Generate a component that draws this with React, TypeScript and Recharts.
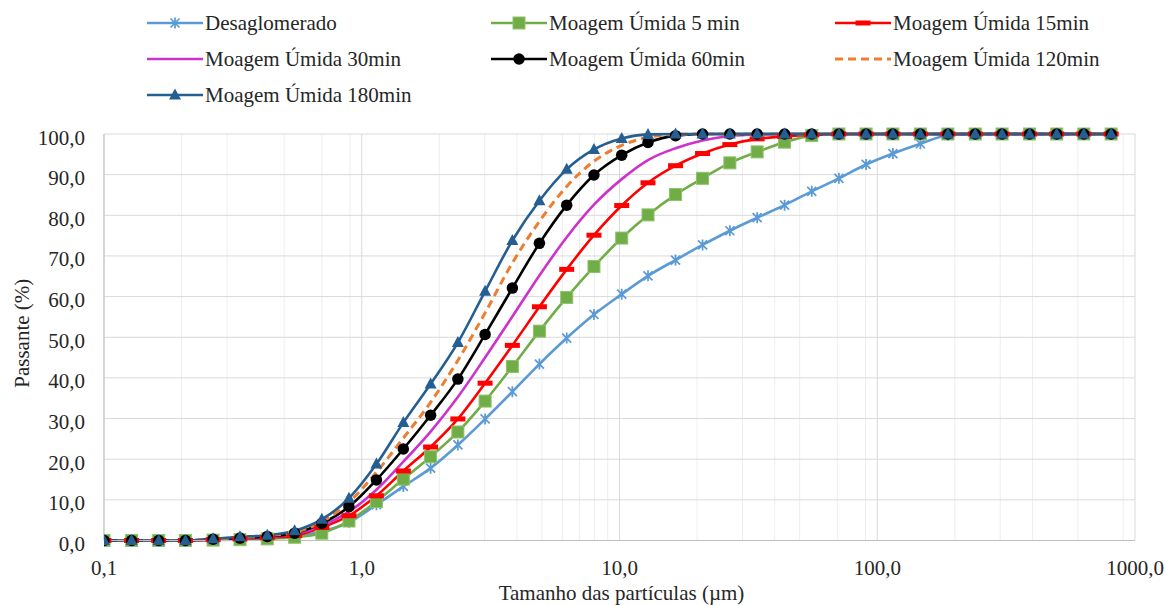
import React from "react"
import { LineChart, Line, XAxis, YAxis, CartesianGrid, Label } from "recharts"

// particle size classes (µm)
const sizes = [
  0.1, 0.128, 0.163, 0.207, 0.265, 0.337, 0.43, 0.549, 0.7, 0.892, 1.14, 1.45,
  1.85, 2.36, 3.01, 3.84, 4.89, 6.24, 7.96, 10.2, 12.9, 16.5, 21.0, 26.8, 34.2,
  43.7, 55.7, 71.0, 90.5, 115, 147, 188, 240, 305, 390, 497, 633, 808,
]

// passante acumulado (%)
const desaglomerado = [
  0, 0, 0, 0, 0.2, 0.4, 0.7, 1.0, 2.2, 4.5, 8.8, 13.3, 17.8, 23.5, 29.9, 36.6,
  43.4, 49.8, 55.6, 60.6, 65.1, 69.0, 72.7, 76.2, 79.4, 82.5, 85.9, 89.1, 92.5,
  95.2, 97.6, 99.7, 100, 100, 100, 100, 100, 100,
]
const moagem5 = [
  0, 0, 0, 0, 0.1, 0.2, 0.4, 0.8, 1.8, 4.8, 9.6, 15.1, 20.6, 26.7, 34.3, 42.8,
  51.5, 59.8, 67.4, 74.4, 80.1, 85.1, 89.1, 92.9, 95.6, 98.0, 99.6, 100, 100,
  100, 100, 100, 100, 100, 100, 100, 100, 100,
]
const moagem15 = [
  0, 0, 0, 0, 0.2, 0.4, 0.7, 1.2, 3.2, 6.1, 11.0, 17.1, 23.0, 29.9, 38.7, 48.0,
  57.5, 66.7, 75.1, 82.4, 88.0, 92.2, 95.2, 97.4, 98.8, 99.4, 99.8, 100, 100,
  100, 100, 100, 100, 100, 100, 100, 100, 100,
]
const moagem30 = [
  0, 0, 0, 0, 0.2, 0.5, 0.9, 1.6, 3.6, 7.1, 12.5, 19.4, 26.8, 35.3, 45.0, 55.1,
  65.2, 74.6, 82.6, 88.9, 93.6, 96.5, 98.4, 99.5, 99.9, 100, 100, 100, 100, 100,
  100, 100, 100, 100, 100, 100, 100, 100,
]
const moagem60 = [
  0, 0, 0, 0, 0.3, 0.6, 1.0, 1.8, 4.2, 8.3, 14.9, 22.5, 30.8, 39.7, 50.7, 62.1,
  73.1, 82.5, 89.9, 94.8, 97.9, 99.6, 100, 100, 100, 100, 100, 100, 100, 100,
  100, 100, 100, 100, 100, 100, 100, 100,
]
const moagem120 = [
  0, 0, 0, 0, 0.3, 0.7, 1.2, 2.0, 4.6, 9.4, 16.8, 25.2, 34.0, 44.3, 56.0, 68.3,
  78.5, 87.1, 93.3, 97.2, 99.2, 99.9, 100, 100, 100, 100, 100, 100, 100, 100,
  100, 100, 100, 100, 100, 100, 100, 100,
]
const moagem180 = [
  0, 0, 0, 0, 0.4, 0.9, 1.3, 2.4, 5.2, 10.4, 18.8, 29.0, 38.5, 48.7, 61.3, 73.8,
  83.6, 91.3, 96.2, 98.9, 99.9, 100, 100, 100, 100, 100, 100, 100, 100, 100,
  100, 100, 100, 100, 100, 100, 100, 100,
]

const xTicks = [0.1, 1, 10, 100, 1000]
const xMinor = [
  0.2, 0.3, 0.4, 0.5, 0.6, 0.7, 0.8, 0.9, 2, 3, 4, 5, 6, 7, 8, 9, 20, 30, 40,
  50, 60, 70, 80, 90, 200, 300, 400, 500, 600, 700, 800, 900,
]
const yTicks = [0, 10, 20, 30, 40, 50, 60, 70, 80, 90, 100]

const FONT = '"Liberation Serif", "Times New Roman", serif'
const TEXT = "#262626"
const FS = 21

type Marker = "star" | "square" | "dash" | "none" | "circle" | "triangle"

const series: {
  key: string
  name: string
  color: string
  marker: Marker
  dash?: string
  values: number[]
}[] = [
  { key: "des", name: "Desaglomerado", color: "#5B9BD5", marker: "star", values: desaglomerado },
  { key: "m5", name: "Moagem Úmida 5 min", color: "#70AD47", marker: "square", values: moagem5 },
  { key: "m15", name: "Moagem Úmida 15min", color: "#FF0000", marker: "dash", values: moagem15 },
  { key: "m30", name: "Moagem Úmida 30min", color: "#CC33CC", marker: "none", values: moagem30 },
  { key: "m60", name: "Moagem Úmida 60min", color: "#000000", marker: "circle", values: moagem60 },
  { key: "m120", name: "Moagem Úmida 120min", color: "#ED7D31", marker: "none", dash: "8 5", values: moagem120 },
  { key: "m180", name: "Moagem Úmida 180min", color: "#255E91", marker: "triangle", values: moagem180 },
]

const data = sizes.map((x, i) => {
  const row: Record<string, number> = { x }
  series.forEach((s) => (row[s.key] = s.values[i]))
  return row
})

const fmt = (v: number) => v.toFixed(1).replace(".", ",")

function MarkerShape({ kind, color, cx, cy }: { kind: Marker; color: string; cx: number; cy: number }) {
  switch (kind) {
    case "star":
      return (
        <path
          d={`M${cx - 4.5},${cy - 4.5}L${cx + 4.5},${cy + 4.5}M${cx - 4.5},${cy + 4.5}L${cx + 4.5},${cy - 4.5}M${cx},${cy - 5.5}L${cx},${cy + 5.5}`}
          stroke={color}
          strokeWidth={1.75}
          fill="none"
        />
      )
    case "square":
      return <rect x={cx - 6} y={cy - 6} width={12} height={12} fill={color} stroke="#8DC26B" strokeWidth={1} />
    case "dash":
      return <rect x={cx - 7.5} y={cy - 2.5} width={15} height={5} fill={color} />
    case "circle":
      return <circle cx={cx} cy={cy} r={5.75} fill={color} />
    case "triangle":
      return <path d={`M${cx},${cy - 6.5}L${cx + 6},${cy + 4.5}L${cx - 6},${cy + 4.5}Z`} fill={color} />
    default:
      return null
  }
}

const makeDot = (kind: Marker, color: string) => (props: any) => {
  const { cx, cy, index } = props
  if (cx == null || cy == null) return <g key={index} />
  return (
    <g key={index}>
      <MarkerShape kind={kind} color={color} cx={cx} cy={cy} />
    </g>
  )
}

const YTick = ({ x, y, payload }: any) => (
  <text x={x} y={y} dy={10.5} textAnchor="end" fontFamily={FONT} fontSize={FS} fill={TEXT}>
    {fmt(payload.value)}
  </text>
)

const XTick = ({ x, y, payload }: any) => (
  <text x={x} y={y} dy={34} textAnchor="middle" fontFamily={FONT} fontSize={FS} fill={TEXT}>
    {fmt(payload.value)}
  </text>
)

// legend laid out in 3 columns like the original
const legendCols = [147, 491, 835]
const legendRows = [23, 59, 95]

function LegendBox() {
  return (
    <>
      {series.map((s, i) => {
        const left = legendCols[i % 3]
        const top = legendRows[Math.floor(i / 3)] - 10
        return (
          <div
            key={s.key}
            style={{ position: "absolute", left, top, height: 20, display: "flex", alignItems: "center" }}
          >
            <svg width={56} height={20}>
              <line
                x1={0}
                y1={10}
                x2={56}
                y2={10}
                stroke={s.color}
                strokeWidth={s.dash ? 3 : 2.6}
                strokeDasharray={s.dash}
              />
              <MarkerShape kind={s.marker} color={s.color} cx={28} cy={10} />
            </svg>
            <span
              style={{
                marginLeft: 2,
                fontFamily: FONT,
                fontSize: FS,
                lineHeight: "20px",
                color: TEXT,
                whiteSpace: "nowrap",
              }}
            >
              {s.name}
            </span>
          </div>
        )
      })}
    </>
  )
}

export default function App() {
  return (
    <div style={{ position: "absolute", left: 0, top: 0, width: 1166, height: 605, background: "#fff" }}>
      <LineChart width={1166} height={605} data={data} margin={{ top: 134, right: 31, bottom: 0, left: 0 }}>
        <CartesianGrid stroke="#EEEEEE" horizontal={false} verticalValues={xMinor} />
        <CartesianGrid stroke="#D9D9D9" />
        <XAxis
          dataKey="x"
          type="number"
          scale="log"
          domain={[0.1, 1000]}
          ticks={xTicks}
          allowDataOverflow
          height={64.5}
          tickSize={0}
          tickMargin={0}
          tick={<XTick />}
          axisLine={{ stroke: "#BFBFBF" }}
        >
          <Label
            content={({ viewBox }: any) => (
              <text
                x={viewBox.x + viewBox.width / 2 + 2}
                y={viewBox.y + 59}
                textAnchor="middle"
                fontFamily={FONT}
                fontSize={FS}
                fill={TEXT}
              >
                Tamanho das partículas (µm)
              </text>
            )}
          />
        </XAxis>
        <YAxis
          type="number"
          domain={[0, 100]}
          ticks={yTicks}
          width={104}
          tickSize={0}
          tickMargin={19}
          tick={<YTick />}
          axisLine={{ stroke: "#BFBFBF" }}
        >
          <Label
            content={({ viewBox }: any) => {
              const cx = viewBox.x + 29
              const cy = viewBox.y + viewBox.height / 2 - 4
              return (
                <text
                  x={cx}
                  y={cy}
                  transform={`rotate(-90 ${cx} ${cy})`}
                  textAnchor="middle"
                  fontFamily={FONT}
                  fontSize={FS}
                  fill={TEXT}
                >
                  Passante (%)
                </text>
              )
            }}
          />
        </YAxis>
        {series.map((s) => (
          <Line
            key={s.key}
            dataKey={s.key}
            name={s.name}
            type="monotone"
            stroke={s.color}
            strokeWidth={s.dash ? 3 : 2.6}
            strokeDasharray={s.dash}
            dot={s.marker === "none" ? false : makeDot(s.marker, s.color)}
            activeDot={false}
            isAnimationActive={false}
          />
        ))}
      </LineChart>
      <LegendBox />
    </div>
  )
}
